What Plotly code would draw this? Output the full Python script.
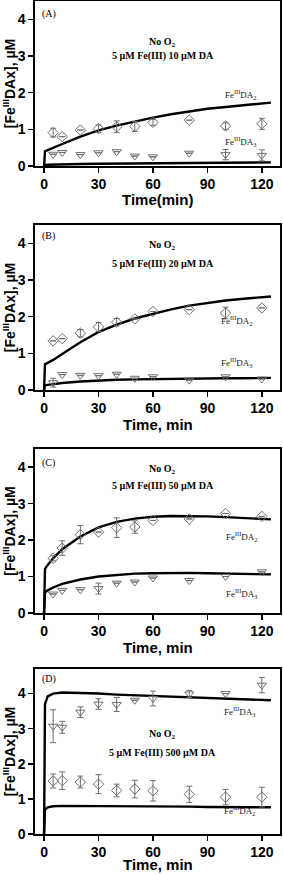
import plotly.graph_objects as go

# ---------------- data ----------------
t_data = [5, 10, 20, 30, 40, 50, 60, 80, 100, 120]
t_model = [0, 0.5, 2, 5, 10, 20, 30, 40, 50, 60, 70, 80, 90, 100, 110, 120, 125]

# Panel A: 5 uM Fe(III) 10 uM DA
A_da2 = [0.91, 0.80, 0.98, 1.02, 1.07, 1.08, 1.19, 1.25, 1.09, 1.15]
A_da2_err = [0.12, 0, 0, 0.10, 0.16, 0.14, 0.08, 0, 0.09, 0.15]
A_da3 = [0.32, 0.37, 0.31, 0.36, 0.39, 0.27, 0.25, 0.35, 0.31, 0.29]
A_da3_err = [0, 0, 0, 0, 0, 0, 0, 0, 0.14, 0.15]
A_m2 = [0, 0.40, 0.43, 0.50, 0.60, 0.80, 0.97, 1.10, 1.22, 1.32, 1.41, 1.49, 1.56, 1.61, 1.66, 1.70, 1.73]
A_m3 = [0, 0.03, 0.035, 0.04, 0.045, 0.055, 0.06, 0.065, 0.07, 0.075, 0.08, 0.085, 0.09, 0.092, 0.095, 0.098, 0.10]

# Panel B: 5 uM Fe(III) 20 uM DA
B_da2 = [1.34, 1.40, 1.55, 1.72, 1.85, 1.94, 2.14, 2.19, 2.10, 2.24]
B_da2_err = [0, 0, 0.10, 0.12, 0.10, 0, 0, 0, 0.16, 0]
B_da3 = [0.20, 0.42, 0.40, 0.39, 0.43, 0.32, 0.36, 0.27, 0.36, 0.30]
B_da3_err = [0.12, 0, 0, 0, 0, 0, 0, 0, 0, 0]
B_m2 = [0, 0.70, 0.74, 0.82, 0.98, 1.30, 1.58, 1.78, 1.95, 2.08, 2.20, 2.30, 2.38, 2.44, 2.49, 2.53, 2.55]
B_m3 = [0, 0.13, 0.14, 0.16, 0.19, 0.23, 0.26, 0.28, 0.29, 0.30, 0.31, 0.31, 0.32, 0.32, 0.32, 0.33, 0.33]

# Panel C: 5 uM Fe(III) 50 uM DA
C_da2 = [1.50, 1.78, 2.15, 2.22, 2.34, 2.36, 2.54, 2.58, 2.73, 2.65]
C_da2_err = [0.07, 0.20, 0.25, 0, 0.27, 0.17, 0, 0, 0, 0]
C_da3 = [0.52, 0.62, 0.64, 0.67, 0.82, 0.85, 0.96, 0.89, 1.00, 1.13]
C_da3_err = [0, 0, 0, 0.15, 0, 0, 0, 0, 0, 0]
C_m2 = [0, 1.21, 1.32, 1.50, 1.75, 2.10, 2.35, 2.50, 2.59, 2.64, 2.66, 2.66, 2.65, 2.63, 2.61, 2.58, 2.57]
C_m3 = [0, 0.57, 0.62, 0.70, 0.80, 0.92, 1.00, 1.05, 1.08, 1.09, 1.10, 1.10, 1.09, 1.08, 1.07, 1.06, 1.06]

# Panel D: 5 uM Fe(III) 500 uM DA
D_da3 = [3.07, 3.04, 3.47, 3.70, 3.69, 3.81, 3.86, 3.99, 4.00, 4.24]
D_da3_err = [0.47, 0.17, 0.15, 0.15, 0.20, 0, 0.21, 0.10, 0, 0.22]
D_da2 = [1.51, 1.52, 1.48, 1.42, 1.24, 1.28, 1.23, 1.13, 1.05, 1.05]
D_da2_err = [0.20, 0.25, 0.17, 0.27, 0.18, 0.25, 0.29, 0.23, 0.22, 0.28]
D_m3 = [0, 3.70, 3.92, 4.00, 4.03, 4.02, 4.00, 3.97, 3.95, 3.93, 3.91, 3.89, 3.87, 3.85, 3.83, 3.82, 3.81]
D_m2 = [0, 0.70, 0.76, 0.79, 0.80, 0.80, 0.80, 0.79, 0.79, 0.79, 0.78, 0.78, 0.77, 0.77, 0.77, 0.76, 0.76]

panels = [
    dict(tag="(A)", cond="5 µM Fe(III) 10 µM DA", xtitle="Time(min)",
         da2=A_da2, da2e=A_da2_err, da3=A_da3, da3e=A_da3_err, m2=A_m2, m3=A_m3,
         ymax=4.5, dom=(1, 166), cond_y=(3.36, 3.0), tag_y=4.14, l2=(108, 1.95), l3=(108, 0.68)),
    dict(tag="(B)", cond="5 µM Fe(III) 20 µM DA", xtitle="Time, min",
         da2=B_da2, da2e=B_da2_err, da3=B_da3, da3e=B_da3_err, m2=B_m2, m3=B_m3,
         ymax=4.5, dom=(225, 390), cond_y=(3.94, 3.44), tag_y=4.2, l2=(106, 1.9), l3=(106, 0.74)),
    dict(tag="(C)", cond="5 µM Fe(III) 50 µM DA", xtitle="Time, min",
         da2=C_da2, da2e=C_da2_err, da3=C_da3, da3e=C_da3_err, m2=C_m2, m3=C_m3,
         ymax=4.5, dom=(449, 613), cond_y=(3.95, 3.48), tag_y=4.12, l2=(109, 2.1), l3=(109, 0.53)),
    dict(tag="(D)", cond="5 µM Fe(III) 500 µM DA", xtitle="Time, min",
         da2=D_da2, da2e=D_da2_err, da3=D_da3, da3e=D_da3_err, m2=D_m2, m3=D_m3,
         ymax=4.7, dom=(669, 834), cond_y=(2.83, 2.3), tag_y=4.42, l2=(107.5, 0.67), l3=(107.5, 3.5)),
]

W, H = 283, 875
fig = go.Figure()
grey = "#6e6e6e"
serif = "Liberation Serif"
sans = "Liberation Sans"
x_lo, x_hi = 35, 280

for i, p in enumerate(panels):
    n = "" if i == 0 else str(i + 1)
    xa, ya = "x" + n, "y" + n
    for m in (p["m2"], p["m3"]):
        fig.add_trace(go.Scatter(x=t_model, y=m, mode="lines", xaxis=xa, yaxis=ya,
                                 line=dict(color="black", width=2.4), showlegend=False,
                                 hoverinfo="skip"))
    fig.add_trace(go.Scatter(x=t_data, y=p["da2"], mode="markers", xaxis=xa, yaxis=ya,
                             marker=dict(symbol="diamond-open", size=8, color=grey,
                                         line=dict(width=1, color=grey)),
                             error_y=dict(type="data", array=p["da2e"], color=grey,
                                          thickness=1, width=3),
                             showlegend=False))
    fig.add_trace(go.Scatter(x=t_data, y=p["da3"], mode="markers", xaxis=xa, yaxis=ya,
                             marker=dict(symbol="triangle-down-open", size=8, color=grey,
                                         line=dict(width=1, color=grey)),
                             error_y=dict(type="data", array=p["da3e"], color=grey,
                                          thickness=1, width=3),
                             showlegend=False))
    top, bot = p["dom"]
    axis_common = dict(showline=True, linecolor="black", linewidth=1.6, mirror=True,
                       ticks="outside", ticklen=5, tickwidth=1.6, tickcolor="black",
                       showgrid=False, zeroline=False, automargin=False,
                       tickfont=dict(family=sans, size=14, color="black", weight="bold"))
    fig.update_layout(**{
        "xaxis" + n: dict(domain=[x_lo / W, x_hi / W], range=[-5, 130], anchor=ya,
                          tickvals=[0, 30, 60, 90, 120], **axis_common),
        "yaxis" + n: dict(domain=[1 - bot / H, 1 - top / H], range=[0, p["ymax"]], anchor=xa,
                          tickvals=[0, 1, 2, 3, 4],
                          title=dict(text="<b>[Fe<sup>III</sup>DAx], µM</b>", standoff=2,
                                     font=dict(family=sans, size=14, color="black")),
                          **axis_common),
    })
    # x-axis title (annotation so the bottom panel's title is not squeezed)
    if i < 3:
        fig.add_annotation(x=(x_lo + x_hi) / 2 / W, y=1 - (bot + 34) / H,
                           xref="paper", yref="paper", showarrow=False, yanchor="middle",
                           text="<b>" + p["xtitle"] + "</b>",
                           font=dict(family=sans, size=15, color="black"))
    else:
        fig.add_annotation(x=(x_lo + x_hi) / 2 / W, y=0,
                           xref="paper", yref="paper", showarrow=False, yanchor="bottom",
                           text="<b>" + p["xtitle"] + "</b>",
                           font=dict(family=sans, size=15, color="black"))
    ann_font = dict(family=serif, size=10, color="black")
    fig.add_annotation(x=65.5, y=p["cond_y"][0], xref=xa, yref=ya, showarrow=False,
                       text="<b>No O<sub>2</sub></b>", font=ann_font)
    fig.add_annotation(x=65.5, y=p["cond_y"][1], xref=xa, yref=ya, showarrow=False,
                       text="<b>" + p["cond"] + "</b>", font=ann_font)
    fig.add_annotation(x=-2.5, y=p["tag_y"], xref=xa, yref=ya, showarrow=False, xanchor="left",
                       text=p["tag"], font=dict(family=serif, size=10, color="black"))
    lab_font = dict(family=serif, size=9, color="#222222")
    fig.add_annotation(x=p["l2"][0], y=p["l2"][1], xref=xa, yref=ya, showarrow=False,
                       text="Fe<sup>III</sup>DA<sub>2</sub>", font=lab_font)
    fig.add_annotation(x=p["l3"][0], y=p["l3"][1], xref=xa, yref=ya, showarrow=False,
                       text="Fe<sup>III</sup>DA<sub>3</sub>", font=lab_font)

fig.update_layout(width=W, height=H, margin=dict(l=0, r=0, t=0, b=0, autoexpand=False),
                  plot_bgcolor="white", paper_bgcolor="white", showlegend=False,
                  hovermode=False)
fig.write_html("out.html", config={"displayModeBar": False, "staticPlot": True},
               post_script="document.body.style.margin='0px';")
